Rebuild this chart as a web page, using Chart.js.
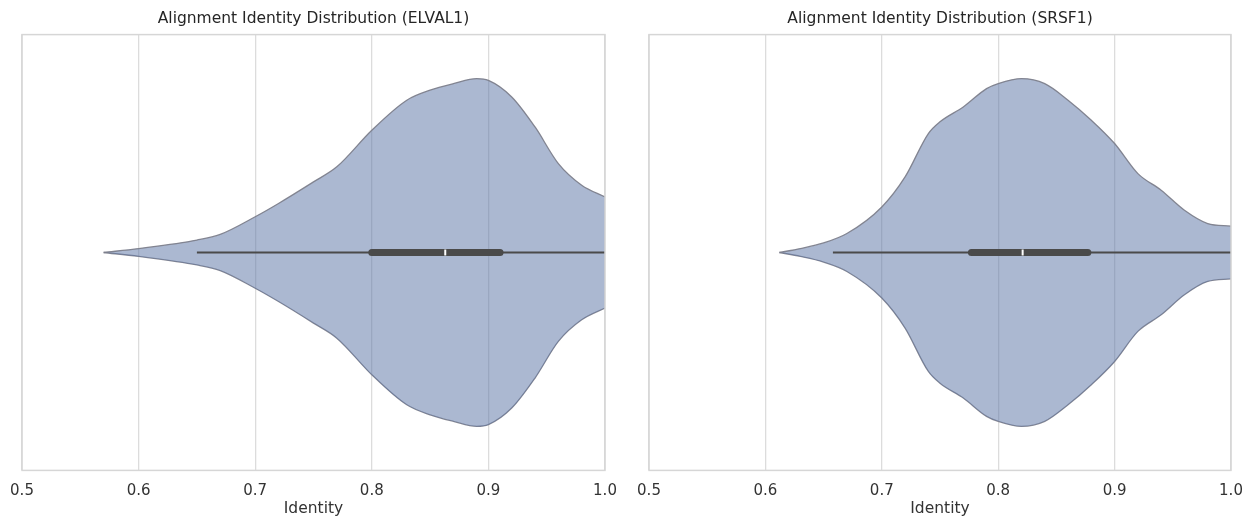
<!DOCTYPE html>
<html>
<head>
<meta charset="utf-8">
<script src="https://cdn.jsdelivr.net/npm/chart.js@4.4.1/dist/chart.umd.min.js"></script>
<style>
  html, body { margin: 0; padding: 0; background: #fff; }
  .wrap { display: flex; width: 1253px; height: 519px; }
  .panel { position: relative; height: 519px; }
  #left { width: 626px; }
  #right { width: 627px; }
</style>
</head>
<body>
<div class="wrap">
  <div class="panel" id="left"><canvas id="c1"></canvas></div>
  <div class="panel" id="right"><canvas id="c2"></canvas></div>
</div>
<script>
// x tick labels shared by both panels
const xTicks = [0.5, 0.6, 0.7, 0.8, 0.9, 1.0];

// ELVAL1 violin: identity positions and half-width of the density (fraction of half-height)
const elvalIdentity  = [0.57, 0.60, 0.65, 0.67, 0.70, 0.72, 0.75, 0.77, 0.80, 0.83, 0.85, 0.87, 0.89, 0.90, 0.92, 0.94, 0.96, 0.98, 1.00];
const elvalHalfWidth = [0.00, 0.018, 0.057, 0.083, 0.164, 0.225, 0.324, 0.393, 0.561, 0.699, 0.745, 0.775, 0.798, 0.79, 0.714, 0.576, 0.408, 0.309, 0.255];
// whisker low, q1, median, q3, whisker high
const elvalBox = [0.65, 0.80, 0.863, 0.91, 1.00];

// SRSF1 violin
const srsfIdentity  = [0.612, 0.63, 0.65, 0.67, 0.70, 0.72, 0.74, 0.75, 0.77, 0.79, 0.80, 0.82, 0.84, 0.86, 0.88, 0.90, 0.92, 0.94, 0.96, 0.98, 1.00];
const srsfHalfWidth = [0.00, 0.018, 0.044, 0.087, 0.209, 0.347, 0.546, 0.60, 0.668, 0.752, 0.775, 0.798, 0.775, 0.699, 0.607, 0.50, 0.362, 0.286, 0.194, 0.133, 0.121];
const srsfBox = [0.658, 0.777, 0.821, 0.877, 1.00];

const FONT = "'DejaVu Sans', sans-serif";

// frame around the plot area (seaborn whitegrid spines)
const framePlugin = {
  id: 'frame',
  afterDraw(chart) {
    const { ctx, chartArea: a } = chart;
    ctx.save();
    ctx.strokeStyle = '#d6d6d6';
    ctx.lineWidth = 1.5;
    ctx.strokeRect(a.left, a.top, a.right - a.left, a.bottom - a.top);
    ctx.restore();
  }
};

function makeViolin(canvasId, title, identity, halfWidth, box, pad) {
  const upper = identity.map((x, i) => ({ x: x, y: halfWidth[i] }));
  const lower = identity.map((x, i) => ({ x: x, y: -halfWidth[i] }));

  return new Chart(document.getElementById(canvasId), {
    type: 'scatter',
    data: {
      datasets: [
        {
          data: upper,
          showLine: true,
          cubicInterpolationMode: 'monotone',
          borderColor: 'rgba(125,127,140,0.95)',
          borderWidth: 1.3,
          pointRadius: 0,
          backgroundColor: 'rgba(88,114,164,0.5)',
          fill: '+1',
          order: 3
        },
        {
          data: lower,
          showLine: true,
          cubicInterpolationMode: 'monotone',
          borderColor: 'rgba(125,127,140,0.95)',
          borderWidth: 1.3,
          pointRadius: 0,
          fill: false,
          order: 3
        },
        // whiskers
        {
          data: [{ x: box[0], y: 0 }, { x: box[4], y: 0 }],
          showLine: true,
          borderColor: '#4a4a4a',
          borderWidth: 2.2,
          pointRadius: 0,
          order: 2
        },
        // interquartile bar
        {
          data: [{ x: box[1], y: 0 }, { x: box[3], y: 0 }],
          showLine: true,
          borderColor: '#4a4a4a',
          borderWidth: 7,
          borderCapStyle: 'round',
          pointRadius: 0,
          order: 1
        },
        // median
        {
          data: [{ x: box[2], y: 0 }],
          pointStyle: 'line',
          rotation: 90,
          pointRadius: 3,
          borderColor: '#ffffff',
          borderWidth: 2,
          order: 0
        }
      ]
    },
    options: {
      responsive: true,
      maintainAspectRatio: false,
      animation: false,
      layout: { padding: pad },
      scales: {
        x: {
          type: 'linear',
          min: 0.5,
          max: 1.0,
          afterBuildTicks: axis => { axis.ticks = xTicks.map(v => ({ value: v })); },
          // keep the plot edges where the layout padding puts them
          afterFit: axis => { axis.paddingLeft = 0; axis.paddingRight = 0; },
          grid: { color: '#dcdcdc', lineWidth: 1.3, drawTicks: false },
          border: { display: false },
          ticks: {
            padding: 11.5,
            color: '#333333',
            font: { family: FONT, size: 15 },
            callback: v => v.toFixed(1)
          },
          title: {
            display: true,
            text: 'Identity',
            color: '#333333',
            font: { family: FONT, size: 15.5 },
            padding: { top: -12, bottom: 0 }
          }
        },
        y: {
          display: false,
          min: -1,
          max: 1
        }
      },
      plugins: {
        legend: { display: false },
        tooltip: { enabled: false },
        title: {
          display: true,
          text: title,
          color: '#262626',
          font: { family: FONT, size: 15.5, weight: 'normal' },
          padding: { top: 0, bottom: 6 }
        }
      }
    },
    plugins: [framePlugin]
  });
}

makeViolin('c1', 'Alignment Identity Distribution (ELVAL1)', elvalIdentity, elvalHalfWidth, elvalBox,
  { left: 22, right: 21, top: 10, bottom: 1 });
makeViolin('c2', 'Alignment Identity Distribution (SRSF1)', srsfIdentity, srsfHalfWidth, srsfBox,
  { left: 23, right: 22, top: 10, bottom: 1 });
</script>
</body>
</html>
